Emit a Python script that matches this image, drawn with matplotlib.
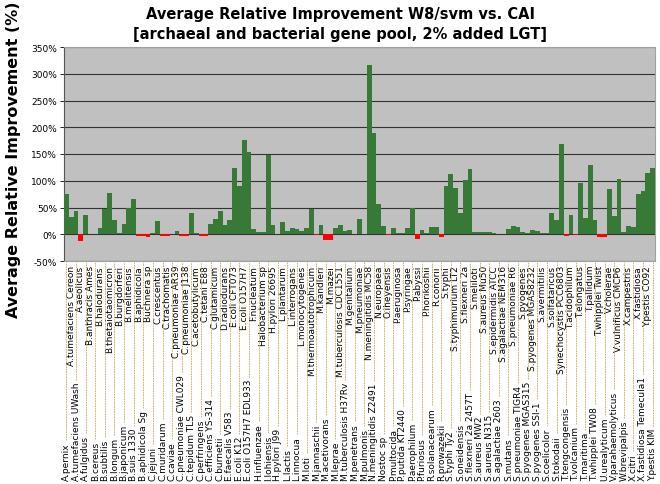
import matplotlib.pyplot as plt
from matplotlib.lines import Line2D
from matplotlib.transforms import blended_transform_factory

genomes = [
    "A.pernix", "A.tumefaciens Cereon", "A.tumefaciens UWash", "A.aeolicus",
    "A.fulgidus", "B.anthracis Ames", "B.cereus", "B.halodurans",
    "B.subtilis", "B.thetaiotaomicron", "B.longum", "B.burgdorferi",
    "B.japonicum", "B.melitensis", "B.suis 1330", "B.aphidicola",
    "B.aphidicola Sg", "Buchnera sp", "C.jejuni", "C.crescentus",
    "C.muridarum", "C.trachomatis", "C.caviae", "C.pneumoniae AR39",
    "C.pneumoniae CWL029", "C.pneumoniae J138", "C.tepidum TLS", "C.acetobutylicum",
    "C.perfringens", "C.tetani E88", "C.efficiens YS-314", "C.glutamicum",
    "C.burnetii", "D.radiodurans", "E.faecalis V583", "E.coli CFT073",
    "E.coli K12", "E.coli O157H7", "E.coli O157H7 EDL933", "F.nucleatum",
    "H.influenzae", "Halobacterium sp", "I.lohiensis", "H.pylori 26695",
    "H.pylori J99", "L.plantarum", "L.lactis", "L.interrogans",
    "L.innocua", "L.monocytogenes", "M.loti", "M.thermoautotrophicum",
    "M.jannaschii", "M.kandleri", "M.acetivorans", "M.mazei",
    "M.leprae", "M.tuberculosis CDC1551", "M.tuberculosis H37Rv", "M.genitalium",
    "M.penetrans", "M.pneumoniae", "M.pulmonis", "N.meningitidis MC58",
    "N.meningitidis Z2491", "N.europaea", "Nostoc sp", "O.iheyensis",
    "P.multocida", "P.aeruginosa", "P.putida KT2440", "P.syringae",
    "P.aerophilum", "P.abyssi", "P.furiosus", "P.horikoshii",
    "R.solanacearum", "R.conorii", "R.prowazekii", "S.typhi",
    "S.typhi Ty2", "S.typhimurium LT2", "S.oneidensis", "S.flexneri 2a",
    "S.flexneri 2a 2457T", "S.meliloti", "S.aureus MW2", "S.aureus Mu50",
    "S.aureus N315", "S.epidermidis ATCC", "S.agalactiae 2603", "S.agalactiae NEM316",
    "S.mutans", "S.pneumoniae R6", "S.pneumoniae TIGR4", "S.pyogenes",
    "S.pyogenes MGAS315", "S.pyogenes MGAS8232", "S.pyogenes SSI-1", "S.avermitilis",
    "S.coelicolor", "S.solfataricus", "S.tokodaii", "Synechocystis PCC6803",
    "T.tengcongensis", "T.acidophilum", "T.volcanium", "T.elongatus",
    "T.maritima", "T.pallidum", "T.whipplei TW08", "T.whipplei Twist",
    "U.urealyticum", "V.cholerae", "V.parahaemolyticus", "V.vulnificus CMCP6",
    "W.brevipalpis", "X.campestris", "X.citri", "X.fastidiosa",
    "X.fastidiosa Temecula1", "Y.pestis CO92", "Y.pestis KIM",
]

# average relative improvement in percent
improvement = [
    75, 33, 44, -13, 36, 1, 1, 11, 47, 77,
    27, 3, 19, 49, 65, -3, -4, -6, 3, 25,
    -3, -4, 1, 6, -3, -4, 39, 3, -3, -3,
    19, 29, 44, 18, 27, 123, 90, 177, 154, 10,
    5, 4, 149, 17, 1, 23, 6, 12, 10, 6,
    12, 48, -1, 18, -10, -10, 12, 17, 7, 8,
    1, 29, 1, 316, 190, 57, 15, -1, 12, 3,
    3, 12, 49, -8, 8, 3, 13, 14, -6, 90,
    112, 87, 39, 102, 122, 4, 4, 4, 4, 2,
    0.5, 0.5, 10, 15, 13, 4, 3, 8, 6, 2,
    3, 39, 27, 169, -4, 36, -1, 95, 30, 130,
    27, -6, -6, 84, 35, 104, 5, 15, 13, 75,
    81, 114, 123,
]

yticks = [-50, 0, 50, 100, 150, 200, 250, 300, 350]

GREEN = "#377a37"
RED = "#ff0000"

fig = plt.figure(figsize=(6.6, 4.85), dpi=100)
ax = fig.add_axes([64 / 660, 223 / 485, 591 / 660, 214 / 485])
ax.set_facecolor("#c0c0c0")

x = list(range(len(genomes)))
colors = [GREEN if v >= 0 else RED for v in improvement]
ax.bar(x, improvement, width=1.0, color=colors, zorder=3)

ax.set_xlim(-0.5, len(genomes) - 0.5)
ax.set_ylim(-50, 350)
ax.set_yticks(yticks)
ax.set_yticklabels([f"{t}%" for t in yticks], fontsize=6.5)
ax.yaxis.grid(True, color="#333333", linewidth=0.8, zorder=1)
ax.set_xticks([])
ax.tick_params(axis="y", length=3, width=0.6, pad=2)
for side in ["top", "right", "bottom"]:
    ax.spines[side].set_color("#a0a0a0")
ax.spines["left"].set_color("#555555")

fig.text(340 / 660, 1 - 14 / 485, "Average Relative Improvement W8/svm vs. CAI",
         ha="center", va="center", fontsize=10.5, fontweight="bold")
fig.text(340 / 660, 1 - 34 / 485, "[archaeal and bacterial gene pool, 2% added LGT]",
         ha="center", va="center", fontsize=10.5, fontweight="bold")
fig.text(14 / 660, 1 - 160 / 485, "Average Relative Improvement (%)",
         rotation=90, ha="center", va="center", fontsize=11.5, fontweight="bold")

trans = blended_transform_factory(ax.transData, fig.transFigure)
axis_bottom = 223 / 485
bottom_labels = []
for i, name in enumerate(genomes):
    if i % 2 == 0:
        t = ax.text(i, 4 / 485, name, transform=trans, rotation=90,
                    ha="center", va="bottom", fontsize=6.5, clip_on=False)
        bottom_labels.append((i, t))
    else:
        ax.text(i, axis_bottom - 4 / 485, name, transform=trans, rotation=90,
                ha="center", va="top", fontsize=6.5, clip_on=False)

# dashed leader lines from the lower labels up to the axis
fig.canvas.draw()
renderer = fig.canvas.get_renderer()
fig_h = fig.get_size_inches()[1] * fig.dpi
for i, t in bottom_labels:
    bb = t.get_window_extent(renderer)
    y0 = (bb.y1 + 2) / fig_h
    fig.add_artist(Line2D([i, i], [y0, axis_bottom - 1 / 485], transform=trans,
                          color="#c9a85c", linewidth=0.6, linestyle=(0, (2, 1))))

fig.savefig("out.png", dpi=100)
